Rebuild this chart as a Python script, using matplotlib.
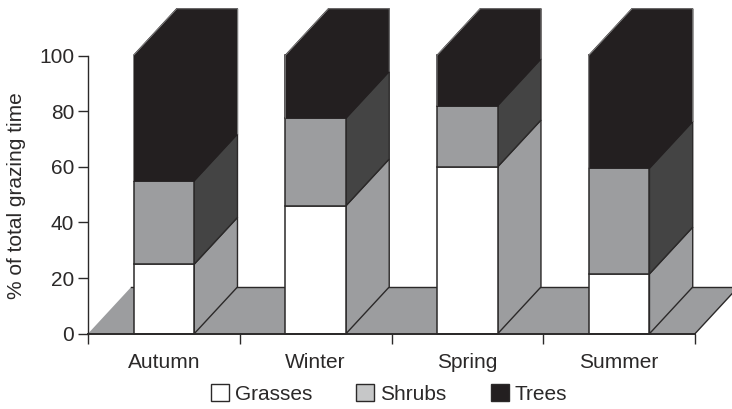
import matplotlib
matplotlib.use("Agg")
import matplotlib.pyplot as plt
import numpy as np
from matplotlib.patches import Patch

categories = ["Autumn", "Winter", "Spring", "Summer"]
grasses = [25, 46, 60, 21.5]
shrubs = [30, 31.5, 22, 38]
trees = [45, 22.5, 18, 40.5]
y_ticks = [0, 20, 40, 60, 80, 100]

LINE = "#2b2929"
BLACK = "#231f20"
GREY = "#9c9d9f"
DARK = "#444444"
LEGEND_GREY = "#c6c7c8"

plt.rcParams["font.family"] = ["Liberation Sans", "DejaVu Sans"]
plt.rcParams["font.size"] = 15

W, H = 732, 409
fig = plt.figure(figsize=(W / 100, H / 100), dpi=100)
ax = fig.add_axes([88 / W, 1 - 333.7 / H, (695 - 88) / W, (333.7 - 55.5) / H])

# fake 3d offset of the back face, in data units
dx = 0.285
dy = 16.8
bar_w = 0.4
n = len(categories)

ax.set_xlim(0, n)
ax.set_ylim(0, 100)

# floor
ax.fill([0, dx, n + dx, n], [0, dy, dy, 0], facecolor=GREY, edgecolor="none",
        clip_on=False, zorder=1)
ax.plot([dx, n + dx], [dy, dy], color=LINE, lw=1, clip_on=False, zorder=1.1)
ax.plot([n, n + dx], [0, dy], color=LINE, lw=1, clip_on=False, zorder=1.1)

x = np.arange(n) + 0.5
series = [(grasses, "white", GREY), (shrubs, GREY, DARK), (trees, BLACK, BLACK)]

for i in range(n):
    left = x[i] - bar_w / 2
    right = x[i] + bar_w / 2
    bottom = 0
    for vals, front, side in series:
        top = bottom + vals[i]
        edge = BLACK if front == BLACK else LINE
        ax.fill([right, right + dx, right + dx, right],
                [bottom, bottom + dy, top + dy, top],
                facecolor=side, edgecolor=edge, lw=1, clip_on=False, zorder=2)
        bottom = top
    bottom = 0
    for vals, front, side in series:
        edge = BLACK if front == BLACK else LINE
        ax.bar(x[i], vals[i], bar_w, bottom=bottom, color=front, edgecolor=edge,
               lw=1.1, clip_on=False, zorder=3)
        bottom += vals[i]
    # top face of the stack
    ax.fill([left, right, right + dx, left + dx],
            [bottom, bottom, bottom + dy, bottom + dy],
            facecolor=BLACK, edgecolor=BLACK, lw=1, clip_on=False, zorder=3)
    # thin grey outer edge of the trees block
    base = grasses[i] + shrubs[i]
    ax.plot([left, left, left + dx, right + dx, right + dx],
            [base, bottom, bottom + dy, bottom + dy, base + dy],
            color="#8a8a8a", lw=0.6, clip_on=False, zorder=3.5)

for s in ["top", "right"]:
    ax.spines[s].set_visible(False)
for s in ["left", "bottom"]:
    ax.spines[s].set_color(LINE)
    ax.spines[s].set_zorder(4)
ax.spines["left"].set_linewidth(1)
ax.spines["bottom"].set_linewidth(1.4)

ax.set_yticks(y_ticks)
ax.set_xticks(range(n + 1))
ax.set_xticklabels([])
ax.tick_params(axis="y", length=7, width=1, color=LINE, pad=3, labelcolor=LINE)
ax.tick_params(axis="x", length=7, width=1, color=LINE)
for xi, name in zip(x, categories):
    ax.annotate(name, (xi, 0), xytext=(0, -28.5), textcoords="offset pixels",
                ha="center", va="center", color=LINE)

fig.text(17 / W, 1 - 196 / H, "% of total grazing time", rotation=90,
         ha="center", va="center", color=LINE)

handles = [Patch(facecolor="white", edgecolor=LINE, lw=1),
           Patch(facecolor=LEGEND_GREY, edgecolor=LINE, lw=1),
           Patch(facecolor=BLACK, edgecolor=LINE, lw=1)]
fig.legend(handles, ["Grasses", "Shrubs", "Trees"], ncol=3, frameon=False,
           loc="center", bbox_to_anchor=(389 / W, 1 - 394 / H),
           handlelength=0.87, handleheight=0.87, handletextpad=0.3,
           columnspacing=2.1, labelcolor=LINE, borderpad=0, borderaxespad=0)

fig.savefig("out.png", dpi=100)
